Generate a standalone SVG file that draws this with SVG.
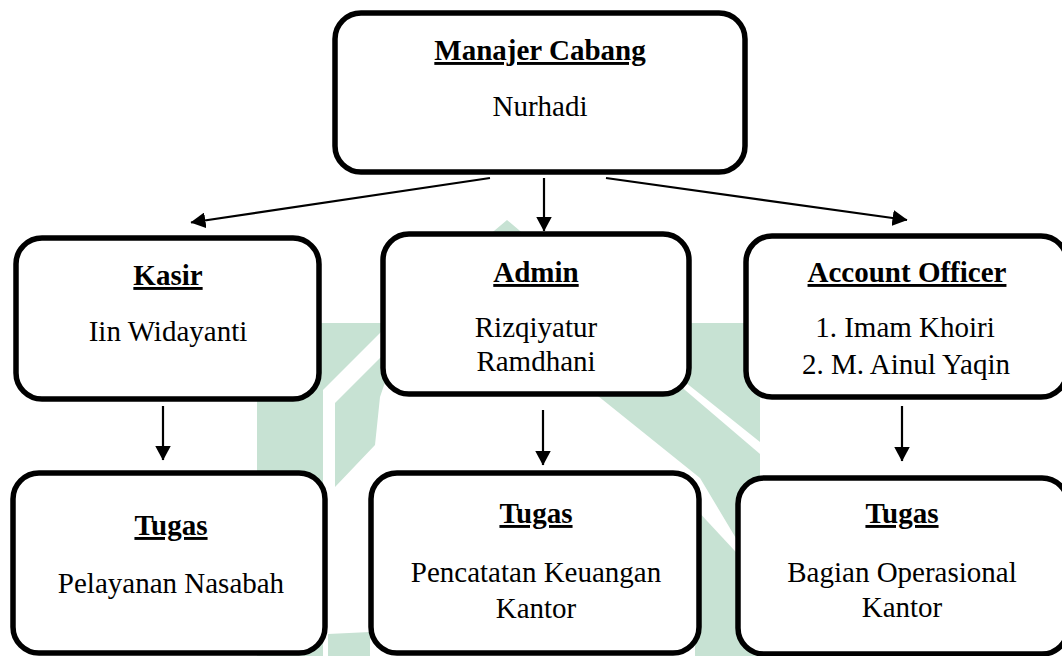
<svg xmlns="http://www.w3.org/2000/svg" width="1062" height="656" viewBox="0 0 1062 656">
<style>
.box{fill:#fff;stroke:#000;stroke-width:5.5}
text{font-family:"Liberation Serif","Times New Roman",Times,serif;font-size:29px;fill:#000;text-anchor:middle}
.h{font-weight:bold;text-decoration:underline}
.wm{fill:#c7e2d3;stroke:none}
.c{stroke:#000;stroke-width:2.2;fill:none;marker-end:url(#ah)}
</style>
<defs>
<marker id="ah" markerUnits="userSpaceOnUse" markerWidth="15" markerHeight="16" viewBox="0 0 15 16" refX="14.5" refY="8" orient="auto">
<path d="M0,0 L15,8 L0,16 z" fill="#000"/>
</marker>
</defs>
<rect width="1062" height="656" fill="#fff"/>
<g id="watermark">
<polygon class="wm" points="257,323 385,323 507,220 629,323 760,323 760,442 690,386 600,314 450,263 323,390 323,656 257,656"/>
<polygon class="wm" points="335,403 400,338 380,397 375,445 335,487"/>
<polygon class="wm" points="610,326 760,454 760,560 737,540 700,478 603,400 560,366"/>
<polygon class="wm" points="695,508 760,578 760,656 695,656"/>
<polygon class="wm" points="328,634 370,632 370,656 328,656"/>
</g>
<g id="connectors">
<line class="c" x1="490" y1="178" x2="191" y2="222.5"/>
<line class="c" x1="544" y1="178" x2="544" y2="231"/>
<line class="c" x1="606" y1="178" x2="907" y2="220"/>
<line class="c" x1="163" y1="406" x2="163" y2="460"/>
<line class="c" x1="543" y1="410" x2="543" y2="465"/>
<line class="c" x1="902" y1="406" x2="902" y2="461"/>
</g>
<g font-family="Liberation Serif, Times New Roman, serif" font-size="29">
<g id="manajer">
<rect class="box" x="335" y="13" width="410" height="159" rx="26"/>
<text class="h" x="540" y="60" font-family="Liberation Serif, serif">Manajer Cabang</text>
<text x="540" y="116" font-family="Liberation Serif, serif">Nurhadi</text>
</g>
<g id="kasir">
<rect class="box" x="16" y="238" width="303" height="161" rx="26"/>
<text class="h" x="168" y="285" font-family="Liberation Serif, serif">Kasir</text>
<text x="168" y="341" font-family="Liberation Serif, serif">Iin Widayanti</text>
</g>
<g id="admin">
<rect class="box" x="383" y="234" width="306" height="160" rx="26"/>
<text class="h" x="536" y="282" font-family="Liberation Serif, serif">Admin</text>
<text x="536" y="337" font-family="Liberation Serif, serif">Rizqiyatur</text>
<text x="536" y="371" font-family="Liberation Serif, serif">Ramdhani</text>
</g>
<g id="ao">
<rect class="box" x="746" y="236" width="321" height="161" rx="26"/>
<text class="h" x="907" y="282" font-family="Liberation Serif, serif">Account Officer</text>
<text x="905" y="337" font-family="Liberation Serif, serif">1. Imam Khoiri</text>
<text x="906" y="374" font-family="Liberation Serif, serif">2. M. Ainul Yaqin</text>
</g>
<g id="tugas-kasir">
<rect class="box" x="13" y="473" width="312" height="180" rx="26"/>
<text class="h" x="171" y="535" font-family="Liberation Serif, serif">Tugas</text>
<text x="171" y="593" font-family="Liberation Serif, serif">Pelayanan Nasabah</text>
</g>
<g id="tugas-admin">
<rect class="box" x="371" y="473" width="328" height="180" rx="26"/>
<text class="h" x="536" y="523" font-family="Liberation Serif, serif">Tugas</text>
<text x="536" y="582" font-family="Liberation Serif, serif">Pencatatan Keuangan</text>
<text x="536" y="618" font-family="Liberation Serif, serif">Kantor</text>
</g>
<g id="tugas-ao">
<rect class="box" x="738" y="478" width="330" height="176" rx="26"/>
<text class="h" x="902" y="523" font-family="Liberation Serif, serif">Tugas</text>
<text x="902" y="582" font-family="Liberation Serif, serif">Bagian Operasional</text>
<text x="902" y="617" font-family="Liberation Serif, serif">Kantor</text>
</g>
</g>
</svg>
